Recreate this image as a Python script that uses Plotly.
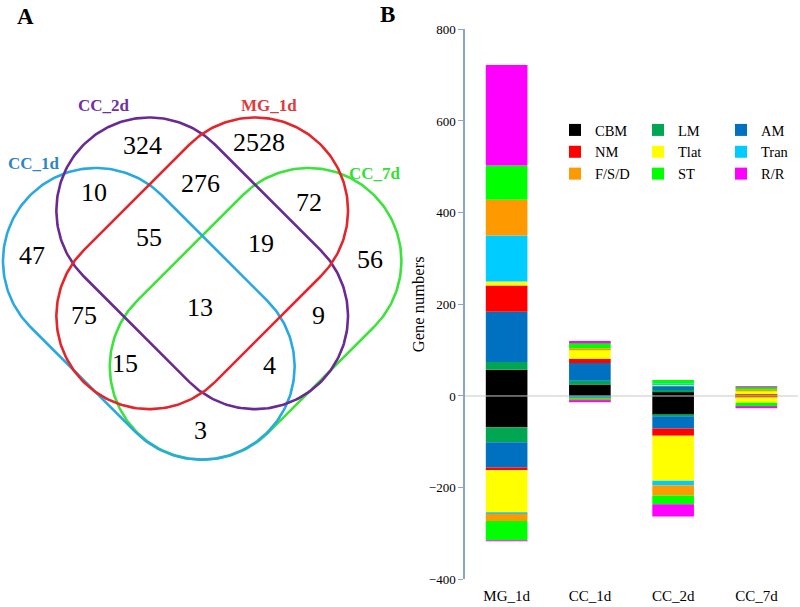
import numpy as np
import plotly.graph_objects as go

# ---------------- data ----------------
categories = ["MG_1d", "CC_1d", "CC_2d", "CC_7d"]
classes = ["CBM", "LM", "AM", "NM", "Tlat", "Tran", "F/S/D", "ST", "R/R"]

up_CBM = [57, 25, 9, 1]
up_LM = [17, 8, 4, 2]
up_AM = [110, 39, 10, 0]
up_NM = [57, 9, 0, 1]
up_Tlat = [9, 20, 2, 8]
up_Tran = [100, 0, 3, 0]
up_FSD = [78, 3, 0, 2]
up_ST = [75, 13, 7, 6]
up_RR = [219, 3, 0, 1]

down_CBM = [-68, -1, -41, -2]
down_LM = [-33, -2, -3, 0]
down_AM = [-55, -2, -27, 0]
down_NM = [-6, 0, -16, -1]
down_Tlat = [-92, 0, -98, -12]
down_Tran = [-3, -2, -10, 0]
down_FSD = [-16, -2, -22, 0]
down_ST = [-42, -2, -19, -9]
down_RR = [-2, -2, -27, -3]

y_ticks = [-400, -200, 0, 200, 400, 600, 800]

venn_sets = ["CC_1d", "CC_2d", "MG_1d", "CC_7d"]
venn_counts = [324, 2528, 10, 276, 72, 47, 55, 19, 56, 13, 75, 9, 15, 4, 3]

# ---------------- styles / layout positions ----------------
up_vals = [up_CBM, up_LM, up_AM, up_NM, up_Tlat, up_Tran, up_FSD, up_ST, up_RR]
down_vals = [down_CBM, down_LM, down_AM, down_NM, down_Tlat, down_Tran, down_FSD, down_ST, down_RR]
class_colors = ["#000000", "#00a651", "#0070c0", "#ff0000", "#ffff00",
                "#00ccff", "#ff9900", "#00ff00", "#ff00ff"]
class_legend = ["legend", "legend2", "legend3", "legend", "legend2", "legend3",
                "legend", "legend2", "legend3"]

SERIF = "Liberation Serif"

fig = go.Figure()

for name, u, d, col, lg in zip(classes, up_vals, down_vals, class_colors, class_legend):
    fig.add_trace(go.Bar(x=categories, y=u, name=name, marker=dict(color=col, line=dict(width=0)),
                         legend=lg, xaxis="x", yaxis="y"))
    fig.add_trace(go.Bar(x=categories, y=d, name=name, marker=dict(color=col, line=dict(width=0)),
                         legend=lg, showlegend=False, xaxis="x", yaxis="y"))

# ---------------- Venn diagram (pixel-like coordinates on x2/y2) ----------------
def stadium(cx, cy, ux, uy, L, w, n=120):
    vx, vy = -uy, ux
    xs, ys = [], []
    c1 = (cx + L * ux, cy + L * uy)
    c2 = (cx - L * ux, cy - L * uy)
    for t in np.linspace(np.pi / 2, -np.pi / 2, n):
        xs.append(c1[0] + w * (np.cos(t) * ux + np.sin(t) * vx))
        ys.append(c1[1] + w * (np.cos(t) * uy + np.sin(t) * vy))
    for t in np.linspace(-np.pi / 2, -3 * np.pi / 2, n):
        xs.append(c2[0] + w * (np.cos(t) * ux + np.sin(t) * vx))
        ys.append(c2[1] + w * (np.cos(t) * uy + np.sin(t) * vy))
    xs.append(xs[0]); ys.append(ys[0])
    return xs, ys

s = 1 / np.sqrt(2)
HALF_L, HALF_W = 74.7, 93.0
venn_geom = {
    "CC_7d": (255.6, 313.8, s, -s, "#3de23d"),
    "CC_1d": (148.8, 313.8, s, s, "#2aa8e0"),
    "CC_2d": (202.2, 263.3, s, s, "#6a2a94"),
    "MG_1d": (202.2, 263.3, s, -s, "#e3262b"),
}
for key in ["CC_7d", "CC_1d", "CC_2d", "MG_1d"]:
    cx, cy, ux, uy, col = venn_geom[key]
    xs, ys = stadium(cx, cy, ux, uy, HALF_L, HALF_W)
    fig.add_trace(go.Scatter(x=xs, y=ys, mode="lines", line=dict(color=col, width=2.6),
                             hoverinfo="skip", showlegend=False, xaxis="x2", yaxis="y2"))

annotations = []
label_pos = {"CC_1d": (34, 163, "#2e86c8"), "CC_2d": (104, 105, "#7030a0"),
             "MG_1d": (269, 105, "#e0393e"), "CC_7d": (375, 173, "#33e033")}
for name in venn_sets:
    x, y, c = label_pos[name]
    annotations.append(dict(x=x, y=y, xref="x2", yref="y2", text=f"<b>{name}</b>", showarrow=False,
                            font=dict(family=SERIF, size=17, color=c)))

count_pos = [(142, 145), (259, 142), (94, 192), (200, 183), (309, 202), (32, 255),
             (149, 237), (261, 243), (370, 259), (200, 307), (84, 315), (318, 315),
             (125, 363), (269, 365), (200, 430)]
for v, (x, y) in zip(venn_counts, count_pos):
    annotations.append(dict(x=x, y=y, xref="x2", yref="y2", text=str(v), showarrow=False,
                            font=dict(family=SERIF, size=26, color="black")))

annotations.append(dict(x=25, y=16, xref="x2", yref="y2", text="<b>A</b>", showarrow=False,
                        font=dict(family=SERIF, size=23, color="black")))
annotations.append(dict(x=387, y=14, xref="x2", yref="y2", text="<b>B</b>", showarrow=False,
                        font=dict(family=SERIF, size=23, color="black")))

W, H = 800, 607
px0, px1 = 465, 798
py_top, py_bot = 29.3, 579.3

legend_common = dict(yanchor="top", xanchor="left", y=(H - 114) / H, bgcolor="rgba(0,0,0,0)",
                     font=dict(family=SERIF, size=14.5, color="black"), tracegroupgap=0,
                     itemwidth=30, traceorder="normal")

fig.update_layout(
    width=W, height=H, template="none",
    margin=dict(l=0, r=0, t=0, b=0),
    paper_bgcolor="white", plot_bgcolor="rgba(0,0,0,0)",
    barmode="relative", bargap=0.5,
    font=dict(family=SERIF, color="black"),
    xaxis=dict(domain=[px0 / W, px1 / W], anchor="y", showline=False, showgrid=False, ticks="",
               tickfont=dict(family=SERIF, size=15, color="black"), ticklabelstandoff=6,
               zeroline=False, automargin=False),
    yaxis=dict(domain=[(H - py_bot) / H, (H - py_top) / H], anchor="x", range=[-400, 800],
               tickvals=y_ticks, showgrid=False, zeroline=False, showline=True,
               linecolor="#8aa4cc", linewidth=1.5, ticks="outside", ticklen=5, tickcolor="#8aa4cc",
               tickfont=dict(family=SERIF, size=13, color="black"), automargin=False,
               title=dict(text="Gene numbers", font=dict(family=SERIF, size=16.5, color="black"),
                          standoff=0)),
    xaxis2=dict(domain=[0, px0 / W], range=[0, px0], visible=False, anchor="y2"),
    yaxis2=dict(domain=[0, 1], range=[H, 0], visible=False, anchor="x2"),
    legend=dict(x=555 / W, **legend_common),
    legend2=dict(x=638 / W, **legend_common),
    legend3=dict(x=721 / W, **legend_common),
    annotations=annotations,
    shapes=[dict(type="line", xref="x domain", yref="y", x0=0, x1=1, y0=0, y1=0,
                 line=dict(color="#c8c8c8", width=1), layer="above")],
)

fig.write_html("out.html", config={"displayModeBar": False},
               post_script="document.body.style.margin='0';document.body.style.overflow='hidden';")
